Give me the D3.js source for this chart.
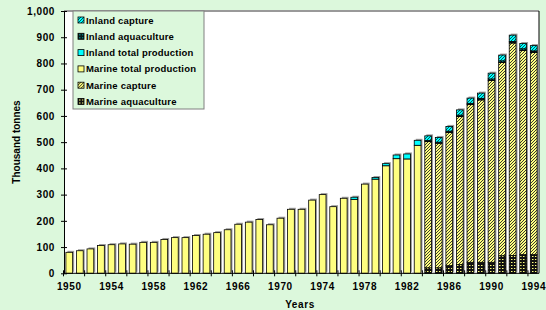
<!DOCTYPE html>
<html lang="en">
<head>
<meta charset="utf-8">
<title>Fish production 1950-1994</title>
<script src="https://d3js.org/d3.v7.min.js"></script>
<style>
  body { margin: 0; background: #dcf8dc; }
  text { font-family: "Liberation Sans", Arial, sans-serif; font-weight: bold; fill: #000; }
</style>
</head>
<body>
<script>
// DATA (thousand tonnes)
var years = d3.range(1950, 1995);
var marineTotal = [80, 86, 93, 106, 109, 112, 111, 118, 118, 129, 136, 136, 144, 149, 155, 166, 187, 195, 205, 185,
  210, 244, 244, 279, 300, 254, 286, 282, 340, 359, 410, 437, 436, 488,
  0, 0, 0, 0, 0, 0, 0, 0, 0, 0, 0];
var inlandTotal = [0, 0, 0, 0, 0, 0, 0, 0, 0, 0, 0, 0, 0, 0, 0, 0, 0, 0, 0, 0,
  0, 0, 0, 0, 0, 0, 0, 8, 0, 6, 8, 14, 19, 19,
  0, 0, 0, 0, 0, 0, 0, 0, 0, 0, 0];
// 1984-1994 split
var marineAqua = [21, 21, 29, 33, 42, 42, 42, 67, 68, 71, 71];
var marineCapture = [481, 475, 508, 565, 601, 619, 693, 737, 810, 779, 771];
var inlandAqua = [4, 4, 5, 5, 5, 6, 6, 6, 6, 6, 6];
var inlandCapture = [18, 18, 18, 20, 20, 20, 22, 22, 24, 20, 20];
var yTicks = [0, 100, 200, 300, 400, 500, 600, 700, 800, 900, 1000];

var keys = ["mAqua", "mCap", "mTot", "iTot", "iAqua", "iCap"];
var names = {
  iCap: "Inland capture", iAqua: "Inland aquaculture", iTot: "Inland total production",
  mTot: "Marine total production", mCap: "Marine capture", mAqua: "Marine aquaculture"
};
var fills = {
  mAqua: "url(#pMaq)", mCap: "url(#pMcap)", mTot: "#ffff80",
  iTot: "#00ffff", iAqua: "url(#pIaq)", iCap: "url(#pIcap)"
};

var rows = years.map(function(y, i) {
  var j = i - 34;
  return {
    year: y,
    mAqua: j >= 0 ? marineAqua[j] : 0,
    mCap: j >= 0 ? marineCapture[j] : 0,
    mTot: marineTotal[i],
    iTot: inlandTotal[i],
    iAqua: j >= 0 ? inlandAqua[j] : 0,
    iCap: j >= 0 ? inlandCapture[j] : 0
  };
});

var w = 546, h = 310;
var pLeft = 64, pRight = 539, pTop = 11, pBottom = 273.3;

var svg = d3.select("body").append("svg").attr("width", w).attr("height", h);

// PATTERNS
var defs = svg.append("defs");
function hatch(id, bg, fg) {
  var p = defs.append("pattern").attr("id", id).attr("patternUnits", "userSpaceOnUse")
    .attr("width", 3).attr("height", 3);
  p.append("rect").attr("width", 3).attr("height", 3).attr("fill", bg);
  p.append("path").attr("d", "M0,3 L3,0 M-1,1 L1,-1 M2,4 L4,2")
    .attr("stroke", fg).attr("stroke-width", 0.9);
}
function dots(id, bg, fg) {
  var p = defs.append("pattern").attr("id", id).attr("patternUnits", "userSpaceOnUse")
    .attr("width", 3).attr("height", 3);
  p.append("rect").attr("width", 3).attr("height", 3).attr("fill", bg);
  p.append("rect").attr("x", 1).attr("y", 1).attr("width", 1.5).attr("height", 1).attr("fill", fg);
}
hatch("pMcap", "#ffff80", "#222");
hatch("pIcap", "#00ffff", "#004848");
dots("pMaq", "#111", "#ffff80");
dots("pIaq", "#0a1a1a", "#00a0a0");

// PLOT AREA
svg.append("rect").attr("x", pLeft).attr("y", pTop).attr("width", pRight - pLeft).attr("height", pBottom - pTop)
  .attr("fill", "#fff");
svg.append("line").attr("x1", pLeft).attr("x2", pRight).attr("y1", pTop).attr("y2", pTop)
  .attr("stroke", "#999").attr("stroke-width", 2);
svg.append("line").attr("x1", pRight).attr("x2", pRight).attr("y1", pTop).attr("y2", pBottom)
  .attr("stroke", "#000");

// SCALES
var x = d3.scaleBand().domain(years).range([pLeft, pRight]).paddingInner(0.36).paddingOuter(0.18);
var y = d3.scaleLinear().domain([0, 1000]).range([pBottom, pTop]);

var stack = d3.stack().keys(keys)(rows);

// shadows
function total(d) { return d3.sum(keys, function(k) { return d[k]; }); }
svg.append("g").selectAll("rect").data(rows).enter().append("rect")
  .attr("x", function(d) { return x(d.year) + 1.5; })
  .attr("y", function(d) { return y(total(d)) - 1.5; })
  .attr("width", x.bandwidth())
  .attr("height", function(d) { return pBottom - y(total(d)); })
  .attr("fill", "#9a9a9a");

svg.append("g").selectAll("g").data(stack).enter().append("g")
  .attr("fill", function(s) { return fills[s.key]; })
  .selectAll("rect").data(function(s) { return s.filter(function(d) { return d[1] > d[0]; }); })
  .enter().append("rect")
  .attr("x", function(d) { return x(d.data.year); })
  .attr("y", function(d) { return y(d[1]); })
  .attr("width", x.bandwidth())
  .attr("height", function(d) { return y(d[0]) - y(d[1]); })
  .attr("stroke", "#000").attr("stroke-width", 0.8);

// AXES
var yAxis = svg.append("g").attr("transform", "translate(" + pLeft + ",0)")
  .call(d3.axisLeft(y).tickValues(yTicks).tickFormat(d3.format(",")).tickSize(3).tickSizeOuter(0));
yAxis.selectAll(".tick line").attr("x2", 3).attr("x1", -3);
yAxis.select(".domain").attr("stroke", "#000");
yAxis.selectAll("text").attr("x", -9).style("font-size", "10px").style("letter-spacing", "0.6px")
  .style("font-family", "'Liberation Sans', Arial, sans-serif").style("font-weight", "bold");

var xAxis = svg.append("g").attr("transform", "translate(0," + pBottom + ")")
  .call(d3.axisBottom(x).tickValues(years.filter(function(d) { return (d - 1950) % 4 === 0; }))
    .tickSize(0).tickSizeOuter(0));
xAxis.select(".domain").attr("d", "M" + pLeft + ",0H" + pRight).attr("stroke", "#000");
xAxis.selectAll("text").attr("y", 10).style("font-size", "10px").style("letter-spacing", "0.6px")
  .style("font-family", "'Liberation Sans', Arial, sans-serif").style("font-weight", "bold");
// category boundary ticks every 2 years
svg.append("g").selectAll("line").data(years.filter(function(d, i) { return i % 2 === 0; }))
  .enter().append("line")
  .attr("x1", function(d) { return x(d) - x.step() * x.paddingInner() / 2 - 0.5; })
  .attr("x2", function(d) { return x(d) - x.step() * x.paddingInner() / 2 - 0.5; })
  .attr("y1", pBottom - 3).attr("y2", pBottom + 3).attr("stroke", "#000");

// AXIS TITLES
svg.append("text").attr("x", 300).attr("y", 308).attr("text-anchor", "middle")
  .style("font-size", "10px").style("letter-spacing", "0.6px").text("Years");
svg.append("text").attr("transform", "translate(20,142) rotate(-90)").attr("text-anchor", "middle")
  .style("font-size", "10px").text("Thousand tonnes");

// LEGEND
var lg = svg.append("g");
lg.append("rect").attr("x", 73).attr("y", 11).attr("width", 131).attr("height", 98)
  .attr("fill", "#dcf8dc").attr("stroke", "#808080");
var legendKeys = keys.slice().reverse();
var li = lg.selectAll("g").data(legendKeys).enter().append("g")
  .attr("transform", function(d, i) { return "translate(78," + (20 + i * 16.3) + ")"; });
li.append("rect").attr("x", 0).attr("y", -3).attr("width", 6).attr("height", 6)
  .attr("fill", function(d) { return fills[d]; }).attr("stroke", "#000").attr("stroke-width", 0.8);
li.append("text").attr("x", 8).attr("y", 3.5).style("font-size", "9.5px").style("letter-spacing", "0.2px")
  .text(function(d) { return names[d]; });
</script>
</body>
</html>
